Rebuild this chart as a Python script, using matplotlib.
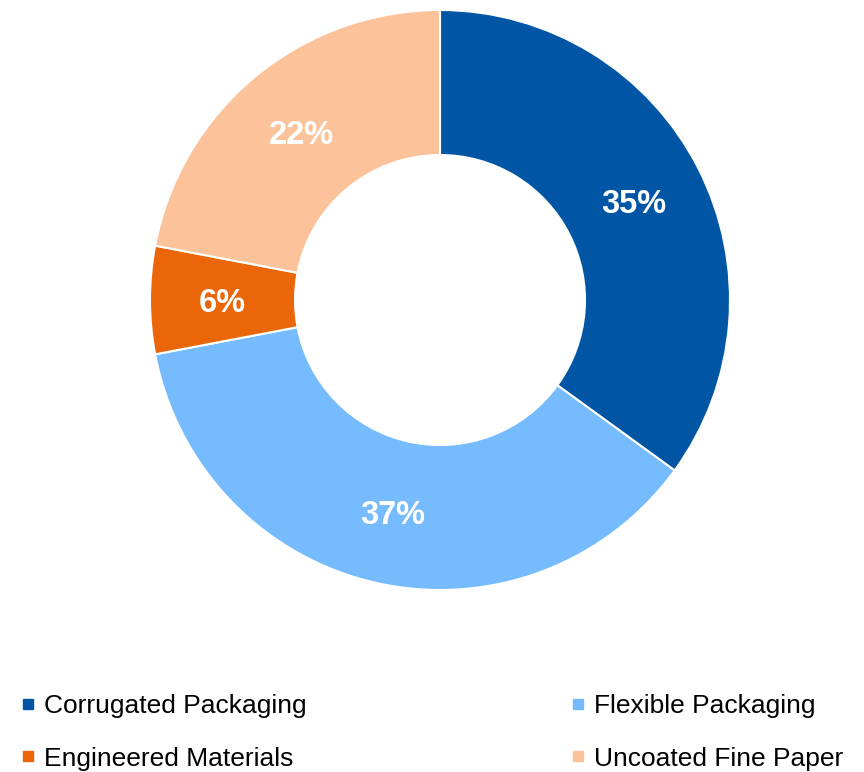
import numpy as np
import matplotlib.pyplot as plt
from matplotlib.lines import Line2D

plt.rcParams['font.family'] = ['Liberation Sans', 'DejaVu Sans']

segments = ['Corrugated Packaging', 'Flexible Packaging', 'Engineered Materials', 'Uncoated Fine Paper']
shares = [35, 37, 6, 22]
colors = ['#0055A5', '#75BBFD', '#EA6608', '#FCC39B']

fig = plt.figure(figsize=(8.64, 7.72), dpi=100)
# donut sits in the upper part, legend below it
ax = fig.add_axes([150 / 864, (772 - 590) / 772, 580 / 864, 580 / 772])

wedges, texts = ax.pie(shares, colors=colors, startangle=90, counterclock=False,
                       radius=1.0, wedgeprops=dict(width=0.5, edgecolor='white', linewidth=1.5))
ax.set_xlim(-1, 1)
ax.set_ylim(-1, 1)
ax.set_aspect('equal')
for w in wedges:
    w.set_clip_on(False)

for w, s in zip(wedges, shares):
    mid = np.deg2rad((w.theta1 + w.theta2) / 2)
    ax.text(0.75 * np.cos(mid), 0.75 * np.sin(mid), f'{s}%', ha='center', va='center_baseline',
            color='white', fontsize=23.5, fontweight='bold')

handles = [Line2D([], [], marker='s', linestyle='none', markersize=6.5, color=c) for c in colors]
# legend order: row-wise, two per row
order = [0, 2, 1, 3]
leg = fig.legend([handles[i] for i in order], [segments[i] for i in order],
                 ncol=2, loc='lower left', bbox_to_anchor=(-0.004, -0.029), frameon=False,
                 fontsize=19, handlelength=0.6, handletextpad=0.3, columnspacing=10.0,
                 labelspacing=1.08)

fig.savefig('out.png', dpi=100)
